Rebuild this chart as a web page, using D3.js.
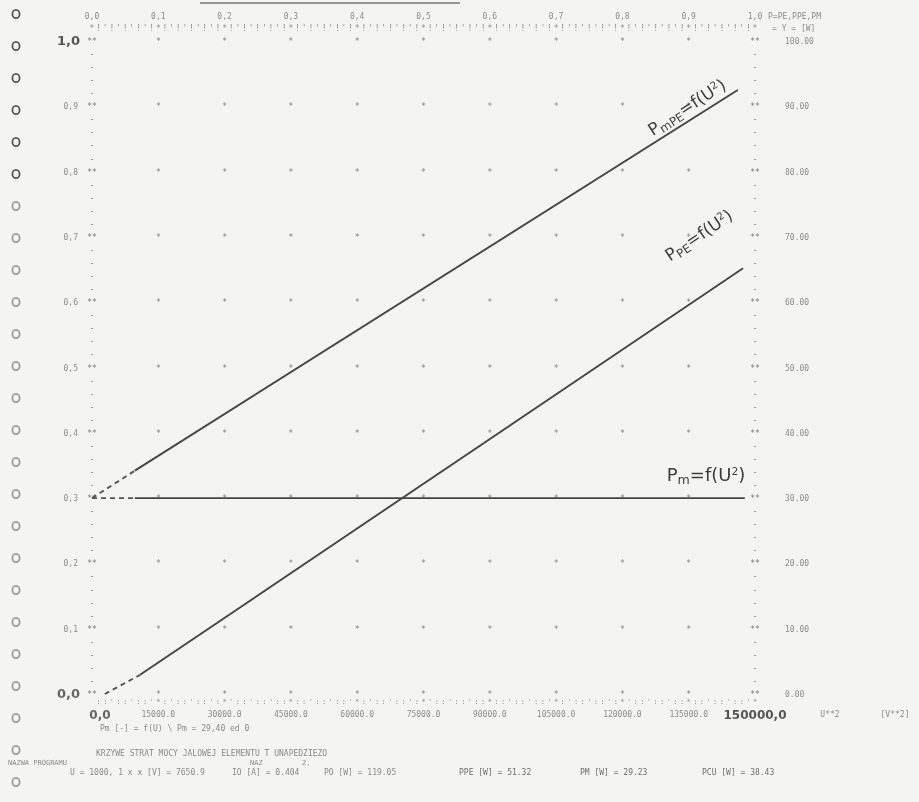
<!DOCTYPE html>
<html>
<head>
<meta charset="utf-8">
<script src="https://cdn.jsdelivr.net/npm/d3@7"></script>
<style>
  body { margin: 0; background: #f4f4f2; }
  svg { display: block; }
</style>
</head>
<body>
<div id="chart"></div>
<script>
// values
const topTicks = [0.0, 0.1, 0.2, 0.3, 0.4, 0.5, 0.6, 0.7, 0.8, 0.9, 1.0];
const leftTicks = [0.0, 0.1, 0.2, 0.3, 0.4, 0.5, 0.6, 0.7, 0.8, 0.9, 1.0];
const rightTicks = [0, 10, 20, 30, 40, 50, 60, 70, 80, 90, 100];
const bottomTicks = [0, 15000, 30000, 45000, 60000, 75000, 90000, 105000, 120000, 135000, 150000];

// lines: [U^2, P] pairs, first segment dashed (pen start)
const pmU2 = [0, 9700, 147700];
const pmVal = [0.30, 0.30, 0.30];
const pmpeU2 = [0, 9700, 146100];
const pmpeVal = [0.30, 0.342, 0.925];
const ppeU2 = [2900, 10800, 147300];
const ppeVal = [0.0, 0.029, 0.652];

const footer = [
  "PO [W] = 119.05",
  "PPE [W] =  51.32",
  "PM [W] =  29.23",
  "PCU [W] =  38.43"
];

const W = 919, H = 802;
const margins = { left: 92, right: 164, top: 41, bottom: 108 };

const svg = d3.select("#chart").append("svg")
  .attr("width", W).attr("height", H);

svg.append("defs").append("filter").attr("id", "soft")
  .append("feGaussianBlur").attr("stdDeviation", 0.35);

svg.append("rect").attr("width", W).attr("height", H).attr("fill", "#f4f4f2");

const x = d3.scaleLinear().domain([0, 1]).range([margins.left, W - margins.right]);
const xU = d3.scaleLinear().domain([0, 150000]).range([margins.left, W - margins.right]);
const y = d3.scaleLinear().domain([0, 1]).range([H - margins.bottom, margins.top]);
const yW = d3.scaleLinear().domain([0, 100]).range([H - margins.bottom, margins.top]);

const g = svg.append("g").attr("filter", "url(#soft)");
const mono = "DejaVu Sans Mono, monospace";
const grey = "#8c8c8c";

// sprocket holes on the left edge of the paper
g.selectAll("ellipse.hole")
  .data(d3.range(0, 25))
  .enter().append("ellipse")
  .attr("cx", 16)
  .attr("cy", i => 14 + i * 32)
  .attr("rx", 3.6).attr("ry", 4.2)
  .attr("fill", "none")
  .attr("stroke", (d, i) => i < 6 ? "#555" : "#9a9a9a")
  .attr("stroke-width", 1.8);

// paper edge at top
g.append("line").attr("x1", 200).attr("x2", 460).attr("y1", 3).attr("y2", 3)
  .attr("stroke", "#777").attr("stroke-width", 1.5);

// top axis row (dot matrix)
const minor = d3.range(0, 101).map(i => i / 100);
g.selectAll("text.topdots")
  .data(minor)
  .enter().append("text")
  .attr("x", d => x(d)).attr("y", 31)
  .attr("text-anchor", "middle")
  .attr("font-family", mono).attr("font-size", 8).attr("fill", grey)
  .text((d, i) => i % 10 === 0 ? "*" : (i % 2 ? "!" : "'"));

g.selectAll("text.toplab")
  .data(topTicks)
  .enter().append("text")
  .attr("x", d => x(d)).attr("y", 19)
  .attr("text-anchor", "middle")
  .attr("font-family", mono).attr("font-size", 8).attr("fill", grey)
  .text(d => d3.format(".1f")(d).replace(".", ","));

g.append("text").attr("x", 768).attr("y", 19)
  .attr("font-family", mono).attr("font-size", 8).attr("fill", grey)
  .text("P=PE,PPE,PM");
g.append("text").attr("x", 772).attr("y", 31)
  .attr("font-family", mono).attr("font-size", 8).attr("fill", grey)
  .text("=  Y = [W]");

// bottom axis row
g.selectAll("text.botdots")
  .data(minor.slice(1))
  .enter().append("text")
  .attr("x", d => x(d)).attr("y", H - margins.bottom + 10)
  .attr("text-anchor", "middle")
  .attr("font-family", mono).attr("font-size", 7).attr("fill", grey)
  .text((d, i) => (i + 1) % 10 === 0 ? "*" : ((i + 1) % 3 ? ":" : "'"));

g.selectAll("text.botlab")
  .data(bottomTicks.slice(1, -1))
  .enter().append("text")
  .attr("x", d => xU(d)).attr("y", H - margins.bottom + 23)
  .attr("text-anchor", "middle")
  .attr("font-family", mono).attr("font-size", 8).attr("fill", grey)
  .text(d => d3.format(".1f")(d));

const hand = "DejaVu Sans, sans-serif";
g.append("text").attr("x", xU(0) + 8).attr("y", H - margins.bottom + 25)
  .attr("text-anchor", "middle").attr("font-family", hand).attr("font-size", 12)
  .attr("font-weight", "bold").attr("fill", "#666").text("0,0");
g.append("text").attr("x", xU(150000)).attr("y", H - margins.bottom + 25)
  .attr("text-anchor", "middle").attr("font-family", hand).attr("font-size", 12)
  .attr("font-weight", "bold").attr("fill", "#555").text("150000,0");
g.append("text").attr("x", 830).attr("y", H - margins.bottom + 23)
  .attr("text-anchor", "middle").attr("font-family", mono).attr("font-size", 8)
  .attr("fill", grey).text("U**2");
g.append("text").attr("x", 895).attr("y", H - margins.bottom + 23)
  .attr("text-anchor", "middle").attr("font-family", mono).attr("font-size", 8)
  .attr("fill", grey).text("[V**2]");

// left axis column
g.selectAll("text.leftdash")
  .data(d3.range(0, 51).map(i => i / 50))
  .enter().append("text")
  .attr("x", x(0)).attr("y", d => y(d) + 3)
  .attr("text-anchor", "middle")
  .attr("font-family", mono).attr("font-size", 8).attr("fill", "#777")
  .text((d, i) => i % 5 === 0 ? "**" : "-");

g.selectAll("text.leftlab")
  .data(leftTicks.slice(1, -1))
  .enter().append("text")
  .attr("x", x(0) - 14).attr("y", d => y(d) + 3)
  .attr("text-anchor", "end")
  .attr("font-family", mono).attr("font-size", 8).attr("fill", grey)
  .text(d => d3.format(".1f")(d).replace(".", ","));

[0, 1].forEach(v => {
  g.append("text").attr("x", x(0) - 12).attr("y", y(v) + 4)
    .attr("text-anchor", "end").attr("font-family", hand).attr("font-size", 13)
    .attr("font-weight", "bold").attr("fill", v ? "#555" : "#666")
    .text(d3.format(".1f")(v).replace(".", ","));
});

// right axis column
g.selectAll("text.rightdash")
  .data(d3.range(0, 51).map(i => i / 50))
  .enter().append("text")
  .attr("x", x(1)).attr("y", d => y(d) + 3)
  .attr("text-anchor", "middle")
  .attr("font-family", mono).attr("font-size", 8).attr("fill", "#777")
  .text((d, i) => i % 5 === 0 ? "**" : "-");

g.selectAll("text.rightlab")
  .data(rightTicks)
  .enter().append("text")
  .attr("x", x(1) + 30).attr("y", d => yW(d) + 3)
  .attr("font-family", mono).attr("font-size", 8).attr("fill", grey)
  .text(d => d3.format(".2f")(d));

// grid points
const gridPts = [];
d3.range(1, 10).forEach(i => d3.range(0, 11).forEach(j => gridPts.push([i / 10, j / 10])));
g.selectAll("text.gp")
  .data(gridPts)
  .enter().append("text")
  .attr("x", d => x(d[0])).attr("y", d => y(d[1]) + 3)
  .attr("text-anchor", "middle")
  .attr("font-family", mono).attr("font-size", 8).attr("fill", "#7a7a7a")
  .text("*");

// the three lines
const line = d3.line().x(d => xU(d[0])).y(d => y(d[1]));
const series = [
  { u: pmU2, v: pmVal },
  { u: pmpeU2, v: pmpeVal },
  { u: ppeU2, v: ppeVal }
];
series.forEach(s => {
  const pts = s.u.map((u, i) => [u, s.v[i]]);
  g.append("path").attr("d", line(pts.slice(0, 2)))
    .attr("fill", "none").attr("stroke", "#555").attr("stroke-width", 1.9)
    .attr("stroke-dasharray", "5,4");
  g.append("path").attr("d", line(pts.slice(1)))
    .attr("fill", "none").attr("stroke", "#454545").attr("stroke-width", 1.9);
});

// handwritten labels
function handLabel(cx, cy, angle, sub, size) {
  const t = g.append("text")
    .attr("transform", `translate(${cx},${cy}) rotate(${angle})`)
    .attr("text-anchor", "middle")
    .attr("font-family", hand).attr("font-size", size)
    .attr("fill", "#3e3e3e");
  t.append("tspan").text("P");
  t.append("tspan").attr("font-size", size * 0.7).attr("dy", 3).text(sub);
  t.append("tspan").attr("dy", -3).text("=f(U");
  t.append("tspan").attr("font-size", size * 0.6).attr("dy", -6).text("2");
  t.append("tspan").attr("dy", 6).text(")");
}
handLabel(690, 112, -33, "mPE", 17);
handLabel(702, 240, -34, "PE", 17);
handLabel(706, 481, 0, "m", 18);

// printout footer
const foot = g.append("g").attr("font-family", mono).attr("font-size", 8).attr("fill", "#8a8a8a");
foot.append("text").attr("x", 100).attr("y", 731)
  .text("Pm [-]   =     f(U)    \\     Pm    =     29,40 ed    0");
foot.append("text").attr("x", 96).attr("y", 756)
  .text("KRZYWE STRAT MOCY JALOWEJ ELEMENTU T UNAPEDZIEZO");
foot.append("text").attr("x", 8).attr("y", 765).attr("font-size", 7)
  .text("NAZWA PROGRAMU");
foot.append("text").attr("x", 250).attr("y", 765).attr("font-size", 7).text("NAZ");
foot.append("text").attr("x", 302).attr("y", 765).attr("font-size", 7).text("2.");
foot.append("text").attr("x", 70).attr("y", 775)
  .text("U = 1000, 1 x x [V] = 7650.9");
foot.append("text").attr("x", 232).attr("y", 775).text("IO [A] = 0.404");
foot.selectAll("text.res")
  .data(footer)
  .enter().append("text")
  .attr("x", (d, i) => [324, 459, 580, 702][i]).attr("y", 775)
  .attr("fill", (d, i) => i ? "#6e6e6e" : "#8a8a8a")
  .text(d => d);
</script>
</body>
</html>
